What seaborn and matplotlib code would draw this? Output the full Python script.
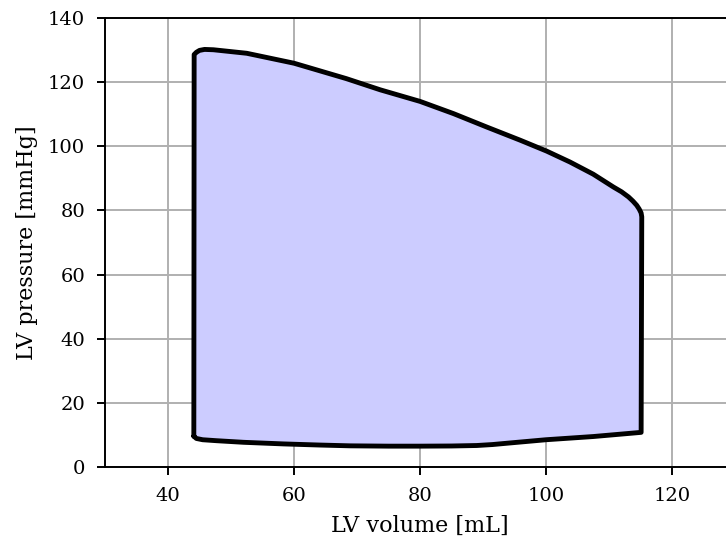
import numpy as np
import pandas as pd
import matplotlib
matplotlib.use("Agg")
import matplotlib.pyplot as plt
import seaborn as sns

# Filling phase (bottom, left -> right)
fill_vol = [44.1, 44.5, 45.5, 47.7, 52.0, 58.3, 64.0, 68.9, 75.0, 80.0, 85.0, 89.0, 91.5,
            94.3, 100.0, 107.5, 115.1]
fill_p = [9.6, 8.9, 8.5, 8.2, 7.7, 7.2, 6.85, 6.6, 6.5, 6.5, 6.55, 6.7, 7.0,
          7.5, 8.5, 9.5, 10.8]
# Ejection phase (top, right -> left)
eject_vol = [115.2, 115.1, 114.8, 114.4, 113.8, 113.1, 112.0, 110.7, 107.5, 103.8, 100.1, 95.9,
             90.6, 85.3, 80.0, 73.7, 68.3, 60.0, 52.5, 47.2, 45.8, 45.0, 44.5, 44.15]
eject_p = [78.0, 79.2, 80.4, 81.6, 82.9, 84.2, 85.8, 87.3, 91.3, 95.1, 98.5, 101.9,
           106.0, 110.2, 114.0, 117.6, 121.1, 125.9, 129.0, 130.1, 130.2, 129.9, 129.3, 128.6]

vol = fill_vol + eject_vol + [fill_vol[0]]
pres = fill_p + eject_p + [fill_p[0]]
df = pd.DataFrame({"vol": vol, "pres": pres})

sns.set_theme(style="ticks")
plt.rcParams["font.family"] = ["DejaVu Serif"]
plt.rcParams["text.color"] = "black"
plt.rcParams["axes.labelcolor"] = "black"

fig = plt.figure(figsize=(7.26, 5.41), dpi=100)
ax = fig.add_axes([105 / 726, 74 / 541, 630 / 726, 449 / 541])

ax.fill(df["vol"], df["pres"], color="#ccccff", zorder=2)
sns.lineplot(data=df, x="vol", y="pres", sort=False, estimator=None, color="black",
             linewidth=3.5, ax=ax, zorder=3)
for l in ax.lines:
    l.set_solid_joinstyle("round")
    l.set_solid_capstyle("round")

ax.set_xlim(30, 130)
ax.set_ylim(0, 140)
ax.set_xticks([40, 60, 80, 100, 120])
ax.set_yticks(range(0, 141, 20))
ax.grid(True, color="#b0b0b0", linewidth=1.4, zorder=0)
ax.set_axisbelow(True)
for s in ["left", "bottom", "top", "right"]:
    ax.spines[s].set_linewidth(1.4)
    ax.spines[s].set_color("black")
ax.tick_params(axis="both", length=5.8, width=1.4, pad=8.5, labelsize=14, colors="black")
ax.set_xlabel("LV volume [mL]", fontsize=16, labelpad=7)
ax.set_ylabel("LV pressure [mmHg]", fontsize=16, labelpad=7)

fig.savefig("out.png", dpi=100)
